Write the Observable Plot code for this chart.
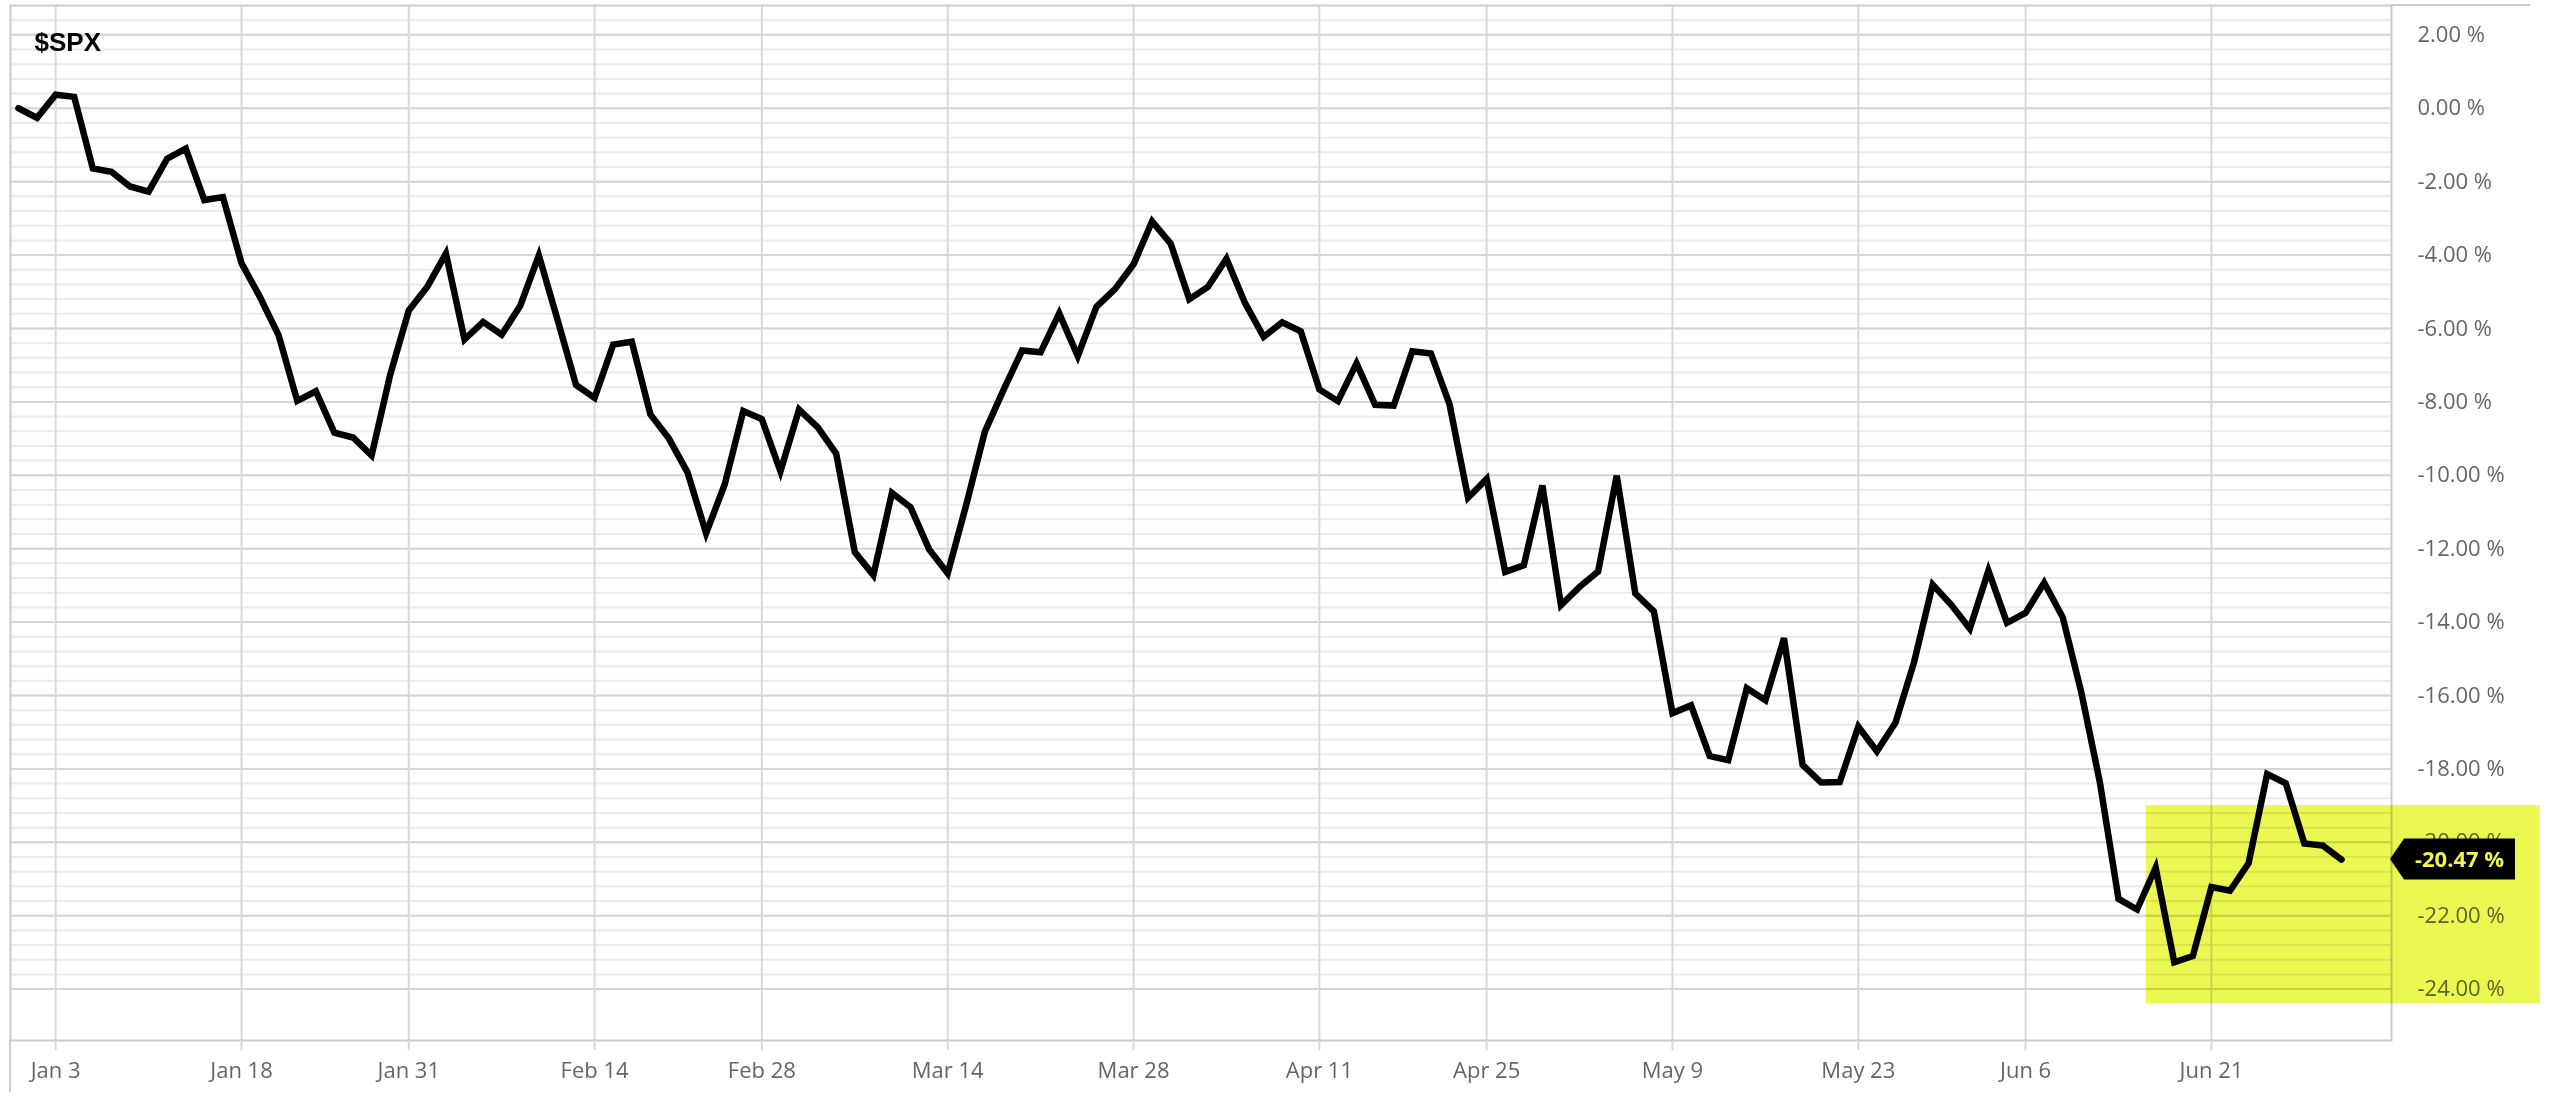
<!DOCTYPE html>
<html>
<head>
<meta charset="utf-8">
<script src="https://cdn.jsdelivr.net/npm/d3@7"></script>
<script src="https://cdn.jsdelivr.net/npm/@observablehq/plot@0.6"></script>
<style>
  html, body { margin: 0; padding: 0; background: #fff; }
  #chart svg { display: block; }
</style>
</head>
<body>
<div id="chart"></div>
<script>
// ---- Data ----
const symbol = "$SPX";

const dates = [
  "2021-12-30","2021-12-31",
  "2022-01-03","2022-01-04","2022-01-05","2022-01-06","2022-01-07","2022-01-10","2022-01-11","2022-01-12","2022-01-13","2022-01-14",
  "2022-01-18","2022-01-19","2022-01-20","2022-01-21","2022-01-24","2022-01-25","2022-01-26","2022-01-27","2022-01-28","2022-01-31",
  "2022-02-01","2022-02-02","2022-02-03","2022-02-04","2022-02-07","2022-02-08","2022-02-09","2022-02-10","2022-02-11",
  "2022-02-14","2022-02-15","2022-02-16","2022-02-17","2022-02-18","2022-02-22","2022-02-23","2022-02-24","2022-02-25",
  "2022-02-28","2022-03-01","2022-03-02","2022-03-03","2022-03-04","2022-03-07","2022-03-08","2022-03-09","2022-03-10","2022-03-11",
  "2022-03-14","2022-03-15","2022-03-16","2022-03-17","2022-03-18","2022-03-21","2022-03-22","2022-03-23","2022-03-24","2022-03-25",
  "2022-03-28","2022-03-29","2022-03-30","2022-03-31","2022-04-01","2022-04-04","2022-04-05","2022-04-06","2022-04-07","2022-04-08",
  "2022-04-11","2022-04-12","2022-04-13","2022-04-14","2022-04-18","2022-04-19","2022-04-20","2022-04-21","2022-04-22",
  "2022-04-25","2022-04-26","2022-04-27","2022-04-28","2022-04-29","2022-05-02","2022-05-03","2022-05-04","2022-05-05","2022-05-06",
  "2022-05-09","2022-05-10","2022-05-11","2022-05-12","2022-05-13","2022-05-16","2022-05-17","2022-05-18","2022-05-19","2022-05-20",
  "2022-05-23","2022-05-24","2022-05-25","2022-05-26","2022-05-27","2022-05-31","2022-06-01","2022-06-02","2022-06-03",
  "2022-06-06","2022-06-07","2022-06-08","2022-06-09","2022-06-10","2022-06-13","2022-06-14","2022-06-15","2022-06-16","2022-06-17",
  "2022-06-21","2022-06-22","2022-06-23","2022-06-24","2022-06-27","2022-06-28","2022-06-29","2022-06-30"
];

const pctChange = [
  0, -0.26, 0.37, 0.31, -1.64, -1.73, -2.13, -2.27, -1.37, -1.10, -2.50, -2.42,
  -4.22, -5.15, -6.19, -7.97, -7.71, -8.84, -8.97, -9.46, -7.26, -5.51,
  -4.86, -3.96, -6.30, -5.82, -6.17, -5.38, -4.01, -5.75, -7.54,
  -7.89, -6.44, -6.36, -8.34, -9.00, -9.92, -11.58, -10.25, -8.25,
  -8.47, -9.89, -8.21, -8.69, -9.41, -12.09, -12.72, -10.48, -10.87, -12.02,
  -12.67, -10.80, -8.81, -7.68, -6.60, -6.65, -5.59, -6.75, -5.41, -4.93,
  -4.25, -3.08, -3.69, -5.20, -4.87, -4.10, -5.31, -6.23, -5.83, -6.08,
  -7.66, -7.98, -6.95, -8.08, -8.10, -6.62, -6.68, -8.06, -10.61,
  -10.10, -12.63, -12.45, -10.28, -13.54, -13.04, -12.62, -10.01, -13.22, -13.71,
  -16.48, -16.27, -17.65, -17.76, -15.80, -16.13, -14.44, -17.89, -18.37, -18.36,
  -16.85, -17.52, -16.74, -15.09, -12.98, -13.53, -14.18, -12.60, -14.02,
  -13.75, -12.93, -13.87, -15.92, -18.37, -21.54, -21.83, -20.69, -23.27, -23.10,
  -21.22, -21.32, -20.57, -18.14, -18.39, -20.03, -20.09, -20.47
];

const tickDates = ["2022-01-03","2022-01-18","2022-01-31","2022-02-14","2022-02-28","2022-03-14","2022-03-28","2022-04-11","2022-04-25","2022-05-09","2022-05-23","2022-06-06","2022-06-21"];
const tickLabels = ["Jan 3","Jan 18","Jan 31","Feb 14","Feb 28","Mar 14","Mar 28","Apr 11","Apr 25","May 9","May 23","Jun 6","Jun 21"];

const yTicksMajor = [2, 0, -2, -4, -6, -8, -10, -12, -14, -16, -18, -20, -22, -24];
const yMinorStep = 0.4;

// highlighted zone (trading-day index range, percent range)
const highlightX = [114.5, 135.7];
const highlightY = [-19.0, -24.4];

// ---- Derived ----
const tickIdx = tickDates.map(d => dates.indexOf(d));
const yTicksMinor = d3.range(-24, 2.4 + 1e-6, yMinorStep).map(v => Math.round(v * 10) / 10);
const lastIdx = pctChange.length - 1;
const lastVal = pctChange[lastIdx];
const fmtPct = v => `${v.toFixed(2)} %`;

function extras(index, scales, values, dimensions) {
  const {width, height, marginLeft, marginRight, marginTop, marginBottom} = dimensions;
  const right = width - marginRight;
  const bottom = height - marginBottom;
  const g = d3.create("svg:g");
  g.append("line")
    .attr("x1", right).attr("x2", width - 26)
    .attr("y1", marginTop).attr("y2", marginTop)
    .attr("stroke", "#cccccc").attr("stroke-width", 2);
  g.append("line")
    .attr("x1", marginLeft).attr("x2", marginLeft)
    .attr("y1", bottom).attr("y2", height - 18)
    .attr("stroke", "#cccccc").attr("stroke-width", 2);
  const yv = scales.y(lastVal);
  const h = 41, notch = 14, w = 111, x0 = right - 1;
  g.append("path")
    .attr("d", `M${x0},${yv} L${x0 + notch},${yv - h / 2} H${x0 + notch + w} V${yv + h / 2} H${x0 + notch} Z`)
    .attr("fill", "#000");
  g.append("text")
    .attr("x", x0 + notch + w / 2).attr("y", yv)
    .attr("dy", "0.35em")
    .attr("text-anchor", "middle")
    .attr("font-family", "'Open Sans', sans-serif")
    .attr("font-weight", "bold")
    .attr("font-size", 22)
    .attr("fill", "#eef552")
    .text(fmtPct(lastVal));
  return g.node();
}

const chart = Plot.plot({
  width: 2556,
  height: 1110,
  marginLeft: 10,
  marginRight: 165,
  marginTop: 5,
  marginBottom: 70,
  style: {fontFamily: "'Open Sans', sans-serif", fontSize: "22px", background: "#fff", overflow: "visible"},
  x: {domain: [-0.43, lastIdx + 2.69]},
  y: {domain: [-25.4, 2.8]},
  marks: [
    Plot.gridY(yTicksMinor, {stroke: "#ebebeb", strokeOpacity: 1, strokeWidth: 2}),
    Plot.gridY(yTicksMajor, {stroke: "#d6d6d6", strokeOpacity: 1, strokeWidth: 2}),
    Plot.gridX(tickIdx, {stroke: "#d9d9d9", strokeOpacity: 1, strokeWidth: 2}),
    Plot.frame({stroke: "#cccccc", strokeWidth: 2}),
    Plot.axisX({
      ticks: tickIdx, tickSize: 10, tickPadding: 12,
      tickFormat: d => tickLabels[tickIdx.indexOf(d)],
      stroke: "#d9d9d9", strokeWidth: 2, fill: "#666", fontSize: 22, label: null
    }),
    Plot.axisY({
      ticks: yTicksMajor, anchor: "right", tickSize: 0, tickPadding: 26,
      tickFormat: fmtPct, fill: "#666", fontSize: 22, label: null
    }),
    Plot.text([symbol], {
      frameAnchor: "top-left", dx: 24, dy: 27,
      fontFamily: "'Liberation Sans', Arial, sans-serif", fontWeight: "bold", fontSize: 26, fill: "#000"
    }),
    Plot.line(pctChange, {
      x: (d, i) => i, y: d => d,
      stroke: "#000", strokeWidth: 6.5, strokeLinejoin: "miter", strokeMiterlimit: 4
    }),
    Plot.rect([{x1: highlightX[0], x2: highlightX[1], y1: highlightY[0], y2: highlightY[1]}], {
      x1: "x1", x2: "x2", y1: "y1", y2: "y2",
      fill: "#ecf852", mixBlendMode: "multiply"
    }),
    extras
  ]
});

document.getElementById("chart").append(chart);
</script>
</body>
</html>
